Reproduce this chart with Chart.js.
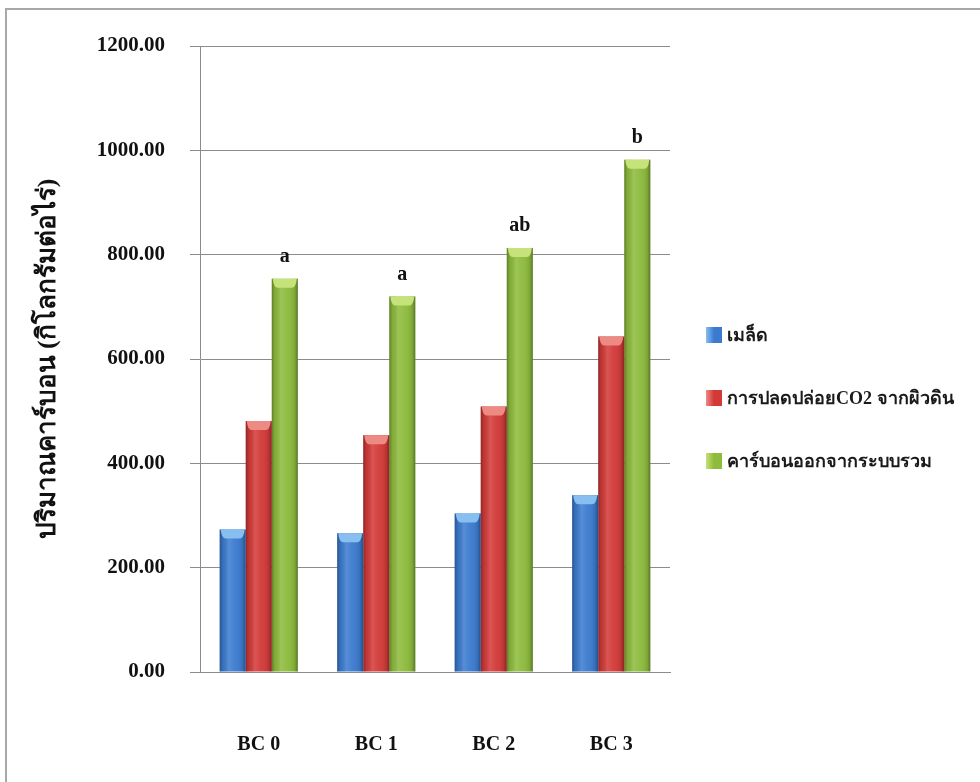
<!DOCTYPE html>
<html>
<head>
<meta charset="utf-8">
<script src="https://cdn.jsdelivr.net/npm/chart.js@4"></script>
<style>
  html, body { margin: 0; padding: 0; background: #ffffff; }
  #wrap { width: 980px; height: 782px; }
</style>
</head>
<body>
<div id="wrap"><canvas id="c" width="980" height="782"></canvas></div>
<script>
// Categories and series (kg of carbon per rai)
const categories = ['BC 0', 'BC 1', 'BC 2', 'BC 3'];
const seedCarbon = [273, 266, 304, 339];
const soilCO2 = [481, 454, 509, 643];
const totalCarbon = [754, 720, 813, 982];
const sigLetters = ['a', 'a', 'ab', 'b'];
const seriesNames = ['เมล็ด', 'การปลดปล่อยCO2 จากผิวดิน', 'คาร์บอนออกจากระบบรวม'];
const yTicks = [0, 200, 400, 600, 800, 1000, 1200];

const baseColors = ['#3b7bcf', '#d23a38', '#8dbb3c'];
const capColors = ['#86bff0', '#ee8a84', '#c6e27a'];

const serif = '"Liberation Serif", "DejaVu Serif", serif';

// Page frame
const framePlugin = {
  id: 'frame',
  beforeDraw(chart) {
    const ctx = chart.ctx;
    ctx.save();
    ctx.fillStyle = '#ffffff';
    ctx.fillRect(0, 0, chart.width, chart.height);
    ctx.strokeStyle = '#a8a8a8';
    ctx.lineWidth = 2;
    ctx.strokeRect(6, 9, chart.width + 10, chart.height + 10);
    ctx.restore();
  }
};

// Cylinder-like shading and a light cap on every bar
const shadePlugin = {
  id: 'shade',
  afterDatasetDraw(chart, args) {
    const ctx = chart.ctx;
    const i = args.index;
    const meta = args.meta;
    ctx.save();
    meta.data.forEach(bar => {
      const w = bar.width;
      const l = bar.x - w / 2, r = bar.x + w / 2;
      const top = bar.y, bottom = bar.base;
      const g = ctx.createLinearGradient(l, 0, r, 0);
      g.addColorStop(0, 'rgba(0,0,0,0.32)');
      g.addColorStop(0.12, 'rgba(0,0,0,0.08)');
      g.addColorStop(0.35, 'rgba(255,255,255,0.14)');
      g.addColorStop(0.6, 'rgba(255,255,255,0.04)');
      g.addColorStop(0.88, 'rgba(0,0,0,0.10)');
      g.addColorStop(1, 'rgba(0,0,0,0.36)');
      ctx.fillStyle = g;
      ctx.fillRect(l, top, w, bottom - top);
      // cap
      const ch = 9;
      ctx.beginPath();
      ctx.moveTo(l + 1, top);
      ctx.lineTo(r - 1, top);
      ctx.quadraticCurveTo(r - 2, top + ch, r - 6, top + ch);
      ctx.lineTo(l + 6, top + ch);
      ctx.quadraticCurveTo(l + 2, top + ch, l + 1, top);
      ctx.closePath();
      ctx.fillStyle = capColors[i];
      ctx.fill();
    });
    ctx.restore();
  }
};

// Significance letters above the total bars and the legend at the right
const notesPlugin = {
  id: 'notes',
  afterDraw(chart) {
    const ctx = chart.ctx;
    const area = chart.chartArea;
    ctx.save();
    const meta = chart.getDatasetMeta(2);
    ctx.font = 'bold 20px ' + serif;
    ctx.fillStyle = '#111111';
    ctx.textAlign = 'center';
    ctx.textBaseline = 'middle';
    meta.data.forEach((bar, k) => {
      ctx.fillText(sigLetters[k], bar.x, bar.y - 22);
    });

    const lx = area.right + 36;
    const rows = [335, 398, 461];
    ctx.textAlign = 'left';
    ctx.font = 'bold 18px ' + serif;
    chart.data.datasets.forEach((ds, k) => {
      const cy = rows[k];
      const g = ctx.createLinearGradient(lx, 0, lx + 16, 0);
      g.addColorStop(0, capColors[k]);
      g.addColorStop(0.5, baseColors[k]);
      g.addColorStop(1, baseColors[k]);
      ctx.fillStyle = g;
      ctx.fillRect(lx, cy - 8, 16, 16);
      ctx.fillStyle = '#1a1a1a';
      ctx.fillText(ds.label, lx + 21, cy + 1);
    });
    ctx.restore();
  }
};

const chart = new Chart(document.getElementById('c'), {
  type: 'bar',
  data: {
    labels: categories,
    datasets: [
      { label: seriesNames[0], data: seedCarbon, backgroundColor: baseColors[0] },
      { label: seriesNames[1], data: soilCO2, backgroundColor: baseColors[1] },
      { label: seriesNames[2], data: totalCarbon, backgroundColor: baseColors[2] }
    ]
  },
  options: {
    responsive: false,
    animation: false,
    devicePixelRatio: 1,
    layout: { padding: { left: 0, right: 310, top: 46, bottom: 0 } },
    datasets: { bar: { categoryPercentage: 0.665, barPercentage: 1.0, borderWidth: 0 } },
    plugins: {
      legend: { display: false },
      tooltip: { enabled: false }
    },
    scales: {
      x: {
        grid: { display: false },
        border: { display: true, color: '#8c8c8c', width: 1 },
        ticks: { padding: 53, color: '#111111', font: { family: serif, size: 20, weight: 'bold' } },
        afterFit(scale) { scale.height = 110; }
      },
      y: {
        min: 0,
        max: 1200,
        afterBuildTicks(scale) { scale.ticks = yTicks.map(v => ({ value: v })); },
        grid: { color: '#8c8c8c', lineWidth: 1, tickLength: 10, drawTicks: true },
        border: { display: true, color: '#8c8c8c', width: 1 },
        ticks: {
          padding: 25,
          color: '#111111',
          font: { family: serif, size: 21, weight: 'bold' },
          callback: v => Number(v).toFixed(2)
        },
        title: {
          display: true,
          text: 'ปริมาณคาร์บอน (กิโลกรัมต่อไร่)',
          color: '#111111',
          font: { family: serif, size: 26, weight: 'bold' },
          padding: { top: 33, bottom: 0 }
        },
        afterFit(scale) { scale.width = 200; }
      }
    }
  },
  plugins: [framePlugin, shadePlugin, notesPlugin]
});
</script>
</body>
</html>
